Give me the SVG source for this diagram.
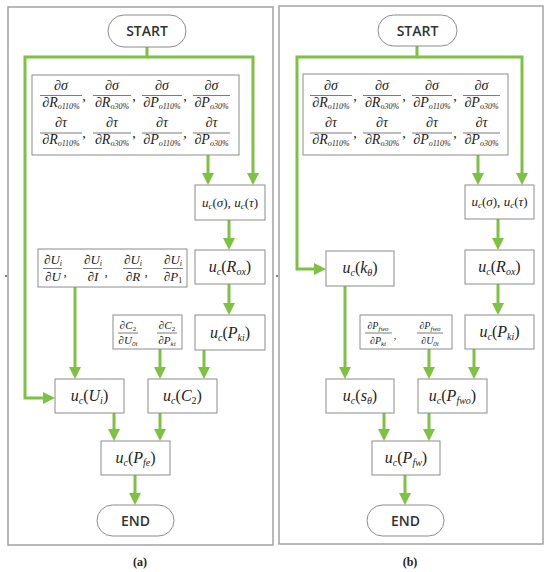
<svg xmlns="http://www.w3.org/2000/svg" width="550" height="572" viewBox="0 0 550 572">
<style>
.frame{fill:none;stroke:#a3a3a3;stroke-width:1.5}
.box{fill:#fff;stroke:#8c8c8c;stroke-width:1}
.term{fill:#fff;stroke:#8c8c8c;stroke-width:1}
.tt{font-family:"Open Sans","Noto Sans",sans-serif;font-weight:600;font-size:14px;fill:#333;text-anchor:middle}
.cap{font-family:"Liberation Serif",serif;font-weight:bold;font-size:12px;fill:#222;text-anchor:middle}
.m{font-family:"Liberation Serif",serif;fill:#222;text-anchor:middle}
.i{font-style:italic}
.conn{fill:none;stroke:#7dc242;stroke-width:3;marker-end:url(#ah)}
.ln{stroke:#444;stroke-width:0.7}
</style>
<defs>
<marker id="ah" markerWidth="12" markerHeight="12" refX="0" refY="6" orient="auto" markerUnits="userSpaceOnUse">
<path d="M0,0 L12,6 L0,12 z" fill="#7dc242"/>
</marker>
</defs>
<rect x="8" y="7" width="265" height="538" class="frame"/>
<rect x="279" y="6" width="264" height="538" class="frame"/>
<circle cx="6" cy="276" r="0.9" fill="#444"/>
<circle cx="277" cy="276" r="0.9" fill="#444"/>
<text x="140" y="566" class="cap">(a)</text>
<text x="410" y="566" class="cap">(b)</text>

<g id="connectors">
<path class="conn" d="M147,47 V57 H25 V398 H43"/>
<path class="conn" d="M147,57 H253 V173"/>
<path class="conn" d="M208,155 V173"/>
<path class="conn" d="M229,220 V238"/>
<path class="conn" d="M229,284 V303"/>
<path class="conn" d="M75,287 V367"/>
<path class="conn" d="M160,349 V367"/>
<path class="conn" d="M204,350 V367"/>
<path class="conn" d="M114,413 V429"/>
<path class="conn" d="M160,413 V429"/>
<path class="conn" d="M135,475 V493"/>

<path class="conn" d="M417,46 V57 H297 V269 H314"/>
<path class="conn" d="M417,57 H522 V173"/>
<path class="conn" d="M478,155 V173"/>
<path class="conn" d="M498,219 V238"/>
<path class="conn" d="M498,284 V303"/>
<path class="conn" d="M345,286 V367"/>
<path class="conn" d="M429,349 V367"/>
<path class="conn" d="M474,349 V367"/>
<path class="conn" d="M384,413 V429"/>
<path class="conn" d="M429,413 V429"/>
<path class="conn" d="M405,475 V493"/>
</g>

<!-- Panel (a) -->
<g id="a-start"><rect x="108" y="15" width="78" height="32" rx="16" class="term"/><text x="147" y="36" class="tt">START</text></g>

<g id="a-deriv">
<rect x="32" y="75" width="207" height="80" class="box"/>
<g class="m" font-size="14">
<text x="61" y="90" class="i">∂σ</text><line x1="40" y1="95.5" x2="82" y2="95.5" class="ln"/><text x="61" y="107"><tspan class="i">∂R</tspan><tspan class="i" font-size="8" dy="2">o110%</tspan></text><text x="84" y="101">,</text>
<text x="112" y="90" class="i">∂σ</text><line x1="93" y1="95.5" x2="131" y2="95.5" class="ln"/><text x="112" y="107"><tspan class="i">∂R</tspan><tspan class="i" font-size="8" dy="2">o30%</tspan></text><text x="134" y="101">,</text>
<text x="162" y="90" class="i">∂σ</text><line x1="142" y1="95.5" x2="182" y2="95.5" class="ln"/><text x="162" y="107"><tspan class="i">∂P</tspan><tspan class="i" font-size="8" dy="2">o110%</tspan></text><text x="185" y="101">,</text>
<text x="211.5" y="90" class="i">∂σ</text><line x1="193" y1="95.5" x2="230" y2="95.5" class="ln"/><text x="211.5" y="107"><tspan class="i">∂P</tspan><tspan class="i" font-size="8" dy="2">o30%</tspan></text>
<text x="61" y="127" class="i">∂τ</text><line x1="40" y1="133" x2="82" y2="133" class="ln"/><text x="61" y="144"><tspan class="i">∂R</tspan><tspan class="i" font-size="8" dy="2">o110%</tspan></text><text x="84" y="138">,</text>
<text x="112" y="127" class="i">∂τ</text><line x1="93" y1="133" x2="131" y2="133" class="ln"/><text x="112" y="144"><tspan class="i">∂R</tspan><tspan class="i" font-size="8" dy="2">o30%</tspan></text><text x="134" y="138">,</text>
<text x="162" y="127" class="i">∂τ</text><line x1="142" y1="133" x2="182" y2="133" class="ln"/><text x="162" y="144"><tspan class="i">∂P</tspan><tspan class="i" font-size="8" dy="2">o110%</tspan></text><text x="185" y="138">,</text>
<text x="211.5" y="127" class="i">∂τ</text><line x1="193" y1="133" x2="230" y2="133" class="ln"/><text x="211.5" y="144"><tspan class="i">∂P</tspan><tspan class="i" font-size="8" dy="2">o30%</tspan></text>
</g>
</g>

<g id="a-ucsig"><rect x="195" y="185" width="70" height="35" class="box"/>
<text x="230" y="207" class="m" font-size="13"><tspan class="i">u</tspan><tspan class="i" font-size="9" dy="2">c</tspan><tspan dy="-2">(</tspan><tspan class="i">σ</tspan>), <tspan class="i">u</tspan><tspan class="i" font-size="9" dy="2">c</tspan><tspan dy="-2">(</tspan><tspan class="i">τ</tspan>)</text></g>

<g id="a-rox"><rect x="195" y="250" width="70" height="34" class="box"/>
<text x="230" y="272" class="m" font-size="16"><tspan class="i">u</tspan><tspan class="i" font-size="10" dy="3">c</tspan><tspan dy="-3">(</tspan><tspan class="i">R</tspan><tspan class="i" font-size="10" dy="3">ox</tspan><tspan dy="-3">)</tspan></text></g>

<g id="a-pki"><rect x="195" y="315" width="70" height="35" class="box"/>
<text x="230" y="338" class="m" font-size="16"><tspan class="i">u</tspan><tspan class="i" font-size="10" dy="3">c</tspan><tspan dy="-3">(</tspan><tspan class="i">P</tspan><tspan class="i" font-size="10" dy="3">ki</tspan><tspan dy="-3">)</tspan></text></g>

<g id="a-dui">
<rect x="38" y="249" width="149" height="38" class="box"/>
<g class="m" font-size="13">
<text x="53" y="264"><tspan class="i">∂U</tspan><tspan class="i" font-size="8" dy="2">i</tspan></text><line x1="43" y1="268.5" x2="62" y2="268.5" class="ln"/><text x="53" y="281" class="i">∂U</text><text x="65" y="276">,</text>
<text x="93" y="264"><tspan class="i">∂U</tspan><tspan class="i" font-size="8" dy="2">i</tspan></text><line x1="83" y1="268.5" x2="102" y2="268.5" class="ln"/><text x="93" y="281" class="i">∂I</text><text x="106" y="276">,</text>
<text x="133" y="264"><tspan class="i">∂U</tspan><tspan class="i" font-size="8" dy="2">i</tspan></text><line x1="123" y1="268.5" x2="142" y2="268.5" class="ln"/><text x="133" y="281" class="i">∂R</text><text x="146" y="276">,</text>
<text x="173" y="264"><tspan class="i">∂U</tspan><tspan class="i" font-size="8" dy="2">i</tspan></text><line x1="163" y1="268.5" x2="183" y2="268.5" class="ln"/><text x="173" y="281"><tspan class="i">∂P</tspan><tspan font-size="8" dy="2">1</tspan></text>
</g>
</g>

<g id="a-dc2">
<rect x="113" y="315" width="69" height="34" class="box"/>
<g class="m" font-size="11">
<text x="128" y="329"><tspan class="i">∂C</tspan><tspan font-size="7" dy="2">2</tspan></text><line x1="118" y1="333" x2="138" y2="333" class="ln"/><text x="128" y="344"><tspan class="i">∂U</tspan><tspan class="i" font-size="7" dy="2">0i</tspan></text>
<text x="167" y="329"><tspan class="i">∂C</tspan><tspan font-size="7" dy="2">2</tspan></text><line x1="157" y1="333" x2="177" y2="333" class="ln"/><text x="167" y="344"><tspan class="i">∂P</tspan><tspan class="i" font-size="7" dy="2">ki</tspan></text>
</g>
</g>

<g id="a-ui"><rect x="55" y="379" width="69" height="34" class="box"/>
<text x="89.5" y="401" class="m" font-size="16"><tspan class="i">u</tspan><tspan class="i" font-size="10" dy="3">c</tspan><tspan dy="-3">(</tspan><tspan class="i">U</tspan><tspan class="i" font-size="10" dy="3">i</tspan><tspan dy="-3">)</tspan></text></g>

<g id="a-c2"><rect x="148" y="379" width="69" height="34" class="box"/>
<text x="182.5" y="401" class="m" font-size="16"><tspan class="i">u</tspan><tspan class="i" font-size="10" dy="3">c</tspan><tspan dy="-3">(</tspan><tspan class="i">C</tspan><tspan font-size="10" dy="3">2</tspan><tspan dy="-3">)</tspan></text></g>

<g id="a-pfe"><rect x="101" y="441" width="69" height="34" class="box"/>
<text x="135.5" y="463" class="m" font-size="16"><tspan class="i">u</tspan><tspan class="i" font-size="10" dy="3">c</tspan><tspan dy="-3">(</tspan><tspan class="i">P</tspan><tspan class="i" font-size="10" dy="3">fe</tspan><tspan dy="-3">)</tspan></text></g>

<g id="a-end"><rect x="97" y="505" width="77" height="31" rx="15.5" class="term"/><text x="135.5" y="526" class="tt">END</text></g>

<!-- Panel (b) -->
<g id="b-start"><rect x="378" y="15" width="79" height="31" rx="15.5" class="term"/><text x="417.5" y="35.5" class="tt">START</text></g>

<g id="b-deriv">
<rect x="303" y="74" width="205" height="81" class="box"/>
<g class="m" font-size="14">
<text x="331" y="90" class="i">∂σ</text><line x1="310" y1="95.5" x2="352" y2="95.5" class="ln"/><text x="331" y="107"><tspan class="i">∂R</tspan><tspan class="i" font-size="8" dy="2">o110%</tspan></text><text x="355" y="101">,</text>
<text x="382" y="90" class="i">∂σ</text><line x1="363" y1="95.5" x2="401" y2="95.5" class="ln"/><text x="382" y="107"><tspan class="i">∂R</tspan><tspan class="i" font-size="8" dy="2">o30%</tspan></text><text x="404" y="101">,</text>
<text x="432" y="90" class="i">∂σ</text><line x1="412" y1="95.5" x2="452" y2="95.5" class="ln"/><text x="432" y="107"><tspan class="i">∂P</tspan><tspan class="i" font-size="8" dy="2">o110%</tspan></text><text x="455" y="101">,</text>
<text x="481.5" y="90" class="i">∂σ</text><line x1="463" y1="95.5" x2="500" y2="95.5" class="ln"/><text x="481.5" y="107"><tspan class="i">∂P</tspan><tspan class="i" font-size="8" dy="2">o30%</tspan></text>
<text x="331" y="127" class="i">∂τ</text><line x1="310" y1="133" x2="352" y2="133" class="ln"/><text x="331" y="144"><tspan class="i">∂R</tspan><tspan class="i" font-size="8" dy="2">o110%</tspan></text><text x="355" y="138">,</text>
<text x="382" y="127" class="i">∂τ</text><line x1="363" y1="133" x2="401" y2="133" class="ln"/><text x="382" y="144"><tspan class="i">∂R</tspan><tspan class="i" font-size="8" dy="2">o30%</tspan></text><text x="404" y="138">,</text>
<text x="432" y="127" class="i">∂τ</text><line x1="412" y1="133" x2="452" y2="133" class="ln"/><text x="432" y="144"><tspan class="i">∂P</tspan><tspan class="i" font-size="8" dy="2">o110%</tspan></text><text x="455" y="138">,</text>
<text x="481.5" y="127" class="i">∂τ</text><line x1="463" y1="133" x2="500" y2="133" class="ln"/><text x="481.5" y="144"><tspan class="i">∂P</tspan><tspan class="i" font-size="8" dy="2">o30%</tspan></text>
</g>
</g>

<g id="b-ucsig"><rect x="465" y="185" width="69" height="34" class="box"/>
<text x="499.5" y="206" class="m" font-size="13"><tspan class="i">u</tspan><tspan class="i" font-size="9" dy="2">c</tspan><tspan dy="-2">(</tspan><tspan class="i">σ</tspan>), <tspan class="i">u</tspan><tspan class="i" font-size="9" dy="2">c</tspan><tspan dy="-2">(</tspan><tspan class="i">τ</tspan>)</text></g>

<g id="b-rox"><rect x="465" y="250" width="69" height="34" class="box"/>
<text x="499.5" y="272" class="m" font-size="16"><tspan class="i">u</tspan><tspan class="i" font-size="10" dy="3">c</tspan><tspan dy="-3">(</tspan><tspan class="i">R</tspan><tspan class="i" font-size="10" dy="3">ox</tspan><tspan dy="-3">)</tspan></text></g>

<g id="b-pki"><rect x="465" y="315" width="69" height="34" class="box"/>
<text x="499.5" y="337" class="m" font-size="16"><tspan class="i">u</tspan><tspan class="i" font-size="10" dy="3">c</tspan><tspan dy="-3">(</tspan><tspan class="i">P</tspan><tspan class="i" font-size="10" dy="3">ki</tspan><tspan dy="-3">)</tspan></text></g>

<g id="b-kth"><rect x="326" y="251" width="68" height="35" class="box"/>
<text x="360" y="273" class="m" font-size="16"><tspan class="i">u</tspan><tspan class="i" font-size="10" dy="3">c</tspan><tspan dy="-3">(</tspan><tspan class="i">k</tspan><tspan class="i" font-size="10" dy="3">θ</tspan><tspan dy="-3">)</tspan></text></g>

<g id="b-dpfwo">
<rect x="360" y="315" width="92" height="34" class="box"/>
<g class="m" font-size="10">
<text x="378" y="329"><tspan class="i">∂P</tspan><tspan class="i" font-size="7" dy="2">fwo</tspan></text><line x1="365" y1="333" x2="392" y2="333" class="ln"/><text x="378" y="344"><tspan class="i">∂P</tspan><tspan class="i" font-size="7" dy="2">ki</tspan></text><text x="395" y="339">,</text>
<text x="430" y="329"><tspan class="i">∂P</tspan><tspan class="i" font-size="7" dy="2">fwo</tspan></text><line x1="417" y1="333" x2="443" y2="333" class="ln"/><text x="430" y="344"><tspan class="i">∂U</tspan><tspan class="i" font-size="7" dy="2">0i</tspan></text>
</g>
</g>

<g id="b-sth"><rect x="326" y="379" width="68" height="34" class="box"/>
<text x="360" y="401" class="m" font-size="16"><tspan class="i">u</tspan><tspan class="i" font-size="10" dy="3">c</tspan><tspan dy="-3">(</tspan><tspan class="i">s</tspan><tspan class="i" font-size="10" dy="3">θ</tspan><tspan dy="-3">)</tspan></text></g>

<g id="b-pfwo"><rect x="418" y="379" width="69" height="34" class="box"/>
<text x="452.5" y="401" class="m" font-size="16"><tspan class="i">u</tspan><tspan class="i" font-size="10" dy="3">c</tspan><tspan dy="-3">(</tspan><tspan class="i">P</tspan><tspan class="i" font-size="10" dy="3">fwo</tspan><tspan dy="-3">)</tspan></text></g>

<g id="b-pfw"><rect x="372" y="441" width="68" height="34" class="box"/>
<text x="406" y="463" class="m" font-size="16"><tspan class="i">u</tspan><tspan class="i" font-size="10" dy="3">c</tspan><tspan dy="-3">(</tspan><tspan class="i">P</tspan><tspan class="i" font-size="10" dy="3">fw</tspan><tspan dy="-3">)</tspan></text></g>

<g id="b-end"><rect x="367" y="505" width="77" height="31" rx="15.5" class="term"/><text x="405.5" y="526" class="tt">END</text></g>
</svg>
